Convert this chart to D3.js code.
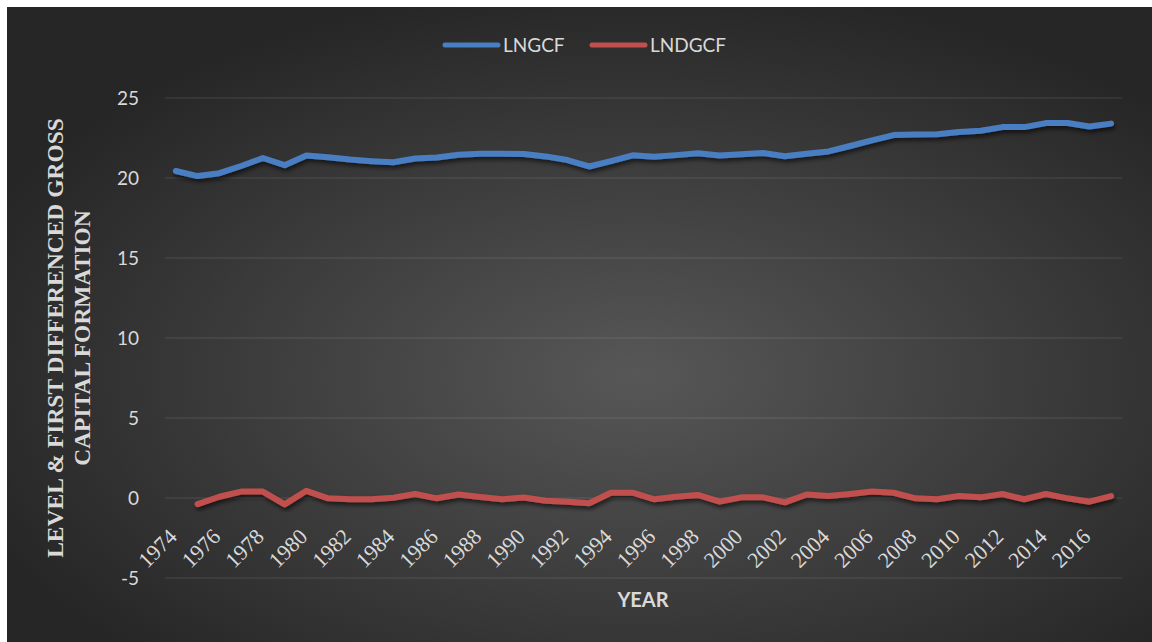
<!DOCTYPE html>
<html>
<head>
<meta charset="utf-8">
<script src="https://cdn.jsdelivr.net/npm/d3@7"></script>
<style>
  html, body { margin: 0; padding: 0; background: #ffffff; }
  svg { display: block; }
</style>
</head>
<body>
<svg id="chart" width="1152" height="642"></svg>
<script>
// Years on the category axis
const years = d3.range(1974, 2018);

// Level of log gross capital formation
const lngcf = [
  20.44, 20.12, 20.30, 20.75, 21.25, 20.80, 21.40, 21.30, 21.15, 21.05,
  20.98, 21.22, 21.28, 21.45, 21.52, 21.52, 21.50, 21.35, 21.12, 20.72,
  21.05, 21.42, 21.33, 21.43, 21.55, 21.40, 21.48, 21.56, 21.36, 21.52,
  21.66, 22.00, 22.35, 22.68, 22.72, 22.74, 22.88, 22.95, 23.18, 23.18,
  23.43, 23.44, 23.22, 23.40
];

// First difference (starts in 1975)
const lndgcf = [
  null, -0.38, 0.08, 0.40, 0.40, -0.40, 0.45, -0.02, -0.08, -0.08,
  0.02, 0.25, -0.02, 0.22, 0.06, -0.08, 0.03, -0.17, -0.23, -0.33,
  0.33, 0.33, -0.08, 0.08, 0.19, -0.23, 0.04, 0.04, -0.27, 0.22,
  0.12, 0.25, 0.40, 0.33, -0.02, -0.08, 0.12, 0.04, 0.25, -0.08,
  0.25, -0.02, -0.23, 0.12
];

const yTicks = [-5, 0, 5, 10, 15, 20, 25];
const xTickYears = years.filter((y, i) => i % 2 === 0);

const series = [
  { name: "LNGCF", values: lngcf, color: "#4a7ec2" },
  { name: "LNDGCF", values: lndgcf, color: "#c0504d" }
];

const svg = d3.select("#chart");
const defs = svg.append("defs");

// Dark radial background
const bg = defs.append("radialGradient")
  .attr("id", "bgGrad")
  .attr("cx", "55%").attr("cy", "58%").attr("r", "62%");
bg.append("stop").attr("offset", "0%").attr("stop-color", "#575757");
bg.append("stop").attr("offset", "100%").attr("stop-color", "#262626");

// Soft shadow under the lines
const shadow = defs.append("filter").attr("id", "lineShadow")
  .attr("x", "-5%").attr("y", "-50%").attr("width", "110%").attr("height", "200%");
shadow.append("feDropShadow")
  .attr("dx", 1.5).attr("dy", 3).attr("stdDeviation", 2)
  .attr("flood-color", "#000").attr("flood-opacity", 0.6);

svg.append("rect")
  .attr("x", 7).attr("y", 7).attr("width", 1145).attr("height", 635)
  .attr("fill", "url(#bgGrad)");

const plot = { left: 165, right: 1122, top: 98, bottom: 578 };

const x = d3.scalePoint()
  .domain(years)
  .range([plot.left, plot.right])
  .padding(0.5);

const y = d3.scaleLinear()
  .domain([-5, 25])
  .range([plot.bottom, plot.top]);

// Horizontal gridlines
svg.append("g")
  .selectAll("line")
  .data(yTicks)
  .join("line")
  .attr("x1", plot.left).attr("x2", plot.right)
  .attr("y1", d => y(d)).attr("y2", d => y(d))
  .attr("stroke", "#ffffff").attr("stroke-opacity", 0.13).attr("stroke-width", 1);

// Value axis labels (plain hyphen for negatives)
const yAxis = d3.axisLeft(y).tickValues(yTicks).tickFormat(d => String(d))
  .tickSize(0).tickPadding(0);
const yG = svg.append("g")
  .attr("transform", `translate(139,0)`)
  .call(yAxis);
yG.select(".domain").remove();
yG.selectAll("text")
  .attr("fill", "#d9d9d9")
  .style("font-family", "Lato, 'Open Sans', sans-serif")
  .style("font-size", "19px");

// Category axis labels, rotated, hanging below the zero line
const xAxis = d3.axisBottom(x).tickValues(xTickYears).tickSize(0).tickPadding(0);
const xG = svg.append("g")
  .attr("transform", `translate(0,${y(0)})`)
  .call(xAxis);
xG.select(".domain").remove();
xG.selectAll("text")
  .attr("fill", "#d9d9d9")
  .attr("text-anchor", "end")
  .attr("dy", "0")
  .attr("transform", "translate(2,40) rotate(-45)")
  .attr("y", 0).attr("x", 0)
  .style("font-family", "'Liberation Serif', 'Times New Roman', serif")
  .style("font-size", "22px");

// Lines
const line = d3.line()
  .defined(d => d.v !== null)
  .x(d => x(d.year))
  .y(d => y(d.v));

svg.append("g")
  .selectAll("path")
  .data(series)
  .join("path")
  .attr("d", s => line(years.map((yr, i) => ({ year: yr, v: s.values[i] }))))
  .attr("fill", "none")
  .attr("stroke", s => s.color)
  .attr("stroke-width", 6)
  .attr("stroke-linejoin", "round")
  .attr("stroke-linecap", "round")
  .attr("filter", "url(#lineShadow)");

// Legend
const legend = svg.append("g");
const legendItems = [
  { s: series[0], x0: 445 },
  { s: series[1], x0: 592 }
];
legendItems.forEach(({ s, x0 }) => {
  legend.append("line")
    .attr("x1", x0).attr("x2", x0 + 53)
    .attr("y1", 45).attr("y2", 45)
    .attr("stroke", s.color).attr("stroke-width", 5)
    .attr("stroke-linecap", "round");
  legend.append("text")
    .attr("x", x0 + 58).attr("y", 52)
    .attr("fill", "#d9d9d9")
    .style("font-family", "Lato, 'Open Sans', sans-serif")
    .style("font-size", "19px")
    .text(s.name);
});

// Axis titles
svg.append("text")
  .attr("x", 643).attr("y", 607)
  .attr("text-anchor", "middle")
  .attr("fill", "#d9d9d9")
  .style("font-family", "Lato, 'Open Sans', sans-serif")
  .style("font-weight", "bold")
  .style("font-size", "20px")
  .text("YEAR");

const yTitle = svg.append("text")
  .attr("transform", "translate(0,338) rotate(-90)")
  .attr("text-anchor", "middle")
  .attr("fill", "#d9d9d9")
  .style("font-family", "'Liberation Serif', 'Times New Roman', serif")
  .style("font-weight", "bold")
  .style("font-size", "23.5px");
yTitle.append("tspan").attr("x", 0).attr("y", 63).text("LEVEL & FIRST DIFFERENCED GROSS");
yTitle.append("tspan").attr("x", 0).attr("y", 90).text("CAPITAL FORMATION");
</script>
</body>
</html>
